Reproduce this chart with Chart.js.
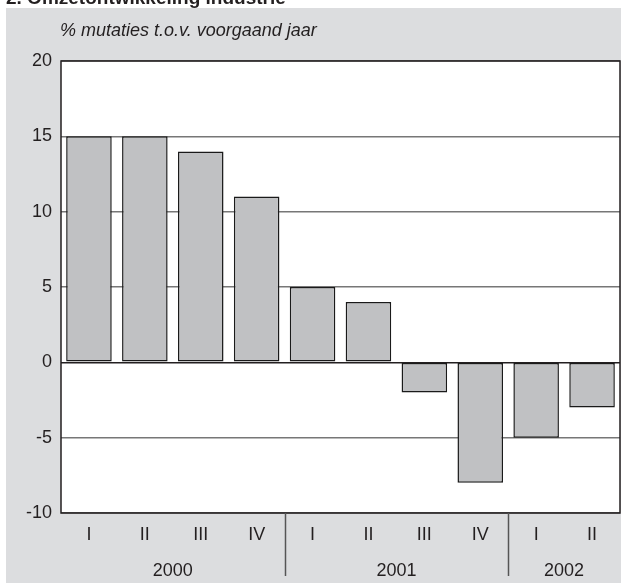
<!DOCTYPE html>
<html>
<head>
<meta charset="utf-8">
<script src="https://cdn.jsdelivr.net/npm/chart.js@4"></script>
<style>
  body { margin: 0; background: #ffffff; }
  #wrap { width: 621px; height: 583px; }
</style>
</head>
<body>
<div id="wrap"><canvas id="omzetChart" width="621" height="583"></canvas></div>
<script>
// Data
const quarters = ['I', 'II', 'III', 'IV', 'I', 'II', 'III', 'IV', 'I', 'II'];
const years = ['2000', '2001', '2002'];
const quartersPerYear = [4, 4, 2];
const mutaties = [15, 15, 14, 11, 5, 4, -2, -8, -5, -3];
const yTicks = [-10, -5, 0, 5, 10, 15, 20];

const chartTitle = '2. Omzetontwikkeling industrie';
const unitLabel = '% mutaties t.o.v. voorgaand jaar';

const panelGray = '#dcdddf';
const textColor = '#231f20';
const fontFamily = 'Arial, "Liberation Sans", Helvetica, sans-serif';

// Background panel, white plot area and the texts above the plot
const backgroundPlugin = {
    id: 'panel',
    beforeDraw(chart) {
        const c = chart.ctx;
        const area = chart.chartArea;
        c.save();
        c.fillStyle = '#ffffff';
        c.fillRect(0, 0, chart.width, chart.height);
        c.fillStyle = panelGray;
        c.fillRect(6, 8, chart.width - 6, chart.height - 8);
        c.fillStyle = '#ffffff';
        c.fillRect(area.left, area.top, area.right - area.left, area.bottom - area.top);

        c.fillStyle = textColor;
        c.textBaseline = 'alphabetic';
        c.textAlign = 'left';
        c.font = 'bold 19px ' + fontFamily;
        c.fillText(chartTitle, 6, 4);
        c.font = 'italic 18px ' + fontFamily;
        c.fillText(unitLabel, 60, 36);
        c.restore();
    }
};

// Frame around plot, year labels and year separators
const yearAxisPlugin = {
    id: 'yearAxis',
    afterDraw(chart) {
        const c = chart.ctx;
        const area = chart.chartArea;
        const x = chart.scales.x;
        c.save();
        c.strokeStyle = '#231f20';
        c.lineWidth = 1.5;
        c.strokeRect(area.left, area.top, area.right - area.left, area.bottom - area.top);

        c.fillStyle = textColor;
        c.font = '18px ' + fontFamily;
        c.textAlign = 'center';
        c.textBaseline = 'alphabetic';
        let start = 0;
        years.forEach((year, i) => {
            const end = start + quartersPerYear[i] - 1;
            const mid = (x.getPixelForValue(start) + x.getPixelForValue(end)) / 2;
            c.fillText(year, mid, 576);
            if (i < years.length - 1) {
                const sep = (x.getPixelForValue(end) + x.getPixelForValue(end + 1)) / 2;
                c.strokeStyle = '#555555';
                c.lineWidth = 1.5;
                c.beginPath();
                c.moveTo(Math.round(sep) + 0.5, area.bottom);
                c.lineTo(Math.round(sep) + 0.5, 576);
                c.stroke();
            }
            start = end + 1;
        });
        c.restore();
    }
};

const ctx = document.getElementById('omzetChart').getContext('2d');
const omzetChart = new Chart(ctx, {
    type: 'bar',
    data: {
        labels: quarters,
        datasets: [{
            data: mutaties,
            backgroundColor: '#c0c1c3',
            borderColor: '#1a1a1a',
            borderWidth: 1.5,
            borderSkipped: false,
            categoryPercentage: 1,
            barPercentage: 0.815
        }]
    },
    options: {
        responsive: false,
        animation: false,
        devicePixelRatio: 1,
        layout: {
            padding: { top: 61, left: 0, right: 1, bottom: 0 }
        },
        scales: {
            x: {
                grid: { display: false, drawTicks: false },
                border: { display: false },
                ticks: {
                    color: textColor,
                    padding: 11,
                    font: { family: fontFamily, size: 18 },
                    maxRotation: 0,
                    autoSkip: false
                },
                afterFit(scale) { scale.height = 70; }
            },
            y: {
                min: -10,
                max: 20,
                afterBuildTicks(scale) {
                    scale.ticks = yTicks.map(v => ({ value: v }));
                },
                grid: {
                    drawTicks: false,
                    color: (c) => c.tick && c.tick.value === 0 ? '#231f20' : '#777777',
                    lineWidth: (c) => c.tick && c.tick.value === 0 ? 1.5 : 1.5
                },
                border: { display: false },
                ticks: {
                    color: textColor,
                    padding: 9,
                    font: { family: fontFamily, size: 18 }
                },
                afterFit(scale) { scale.width = 61; }
            }
        },
        plugins: {
            legend: { display: false },
            tooltip: { enabled: false }
        }
    },
    plugins: [backgroundPlugin, yearAxisPlugin]
});
</script>
</body>
</html>
